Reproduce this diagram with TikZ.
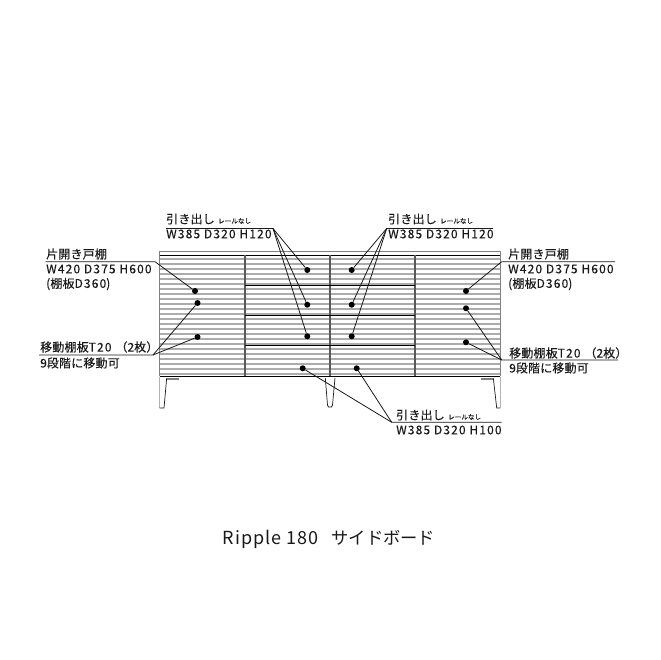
\documentclass[tikz,border=0pt]{standalone}
\usepackage{fontspec}
\setmainfont[LetterSpace=1.5,FakeBold=0.2]{Noto Sans CJK JP}
\newfontfamily\latfont[LetterSpace=9.5,FakeBold=0.2]{Noto Sans CJK JP}
\newfontfamily\headfont[LetterSpace=5.5]{Noto Sans CJK JP}
\newfontfamily\headjpfont{Noto Sans CJK JP}
\newcommand{\lat}[1]{{\latfont #1}}
\definecolor{inkline}{gray}{0.1}
\tikzset{
	lbl/.style={anchor=west,inner sep=0pt,text=inkline,font=\fontsize{12}{14}\selectfont},
	tiny/.style={anchor=west,inner sep=0pt,text=inkline,font=\fontsize{6.5}{8}\selectfont},
	dot/.style={circle,fill=black,inner sep=0pt,minimum size=6pt},
	leader/.style={inkline,line width=0.8pt},
	slat/.style={gray!65,line width=1.9pt},
	frame/.style={black!65,line width=1.2pt},
}
\begin{document}
\begin{tikzpicture}[x=1pt,y=-1pt]
	\useasboundingbox (0,0) rectangle (660,660);
	% slats
	\foreach \y in {0,...,23}
		\draw[slat] (160,{259+5*\y}) -- (500,{259+5*\y});
	% carcass
	\draw[gray,line width=0.9pt] (159.5,376) -- (159.5,251) -- (500,251) -- (500,376);
	\draw[black,line width=1.3pt] (159.5,255.3) -- (500,255.3);
	\draw[black,line width=1.5pt] (159.5,376.7) -- (500,376.7);
	\foreach \x in {245,330,415}
		\draw[frame] (\x,255) -- (\x,376);
	\foreach \y in {285.5,315.5,345.5}
		\draw[black,line width=1.7pt] (245,\y) -- (415,\y);
	% legs
	\draw[gray!60,line width=0.7pt] (159.5,377) -- (159.5,408);
	\draw[inkline,line width=0.7pt] (159.5,408) -- (164,408) -- (166.7,378);
	\draw[gray!60,line width=0.7pt] (500,377) -- (500,408);
	\draw[inkline,line width=0.7pt] (500,408) -- (496.7,408) -- (493.3,378);
	\fill[gray] (166.7,377.5) rectangle (179,380);
	\fill[gray] (481,377.5) rectangle (493.3,380);
	\draw[inkline,line width=0.7pt] (325.3,378) -- (327.5,405) -- (328.5,407) -- (331.5,407) -- (332.5,405) -- (335,378);
	% dots
	\foreach \n/\x/\y in {la/195/291,lb/197.5/303,lc/197.5/337,ra/466/291,rb/466/308.3,rc/466/342.3,
		ma/307.3/270,mb/307.3/304.7,mc/307.3/336.3,na/351.7/270,nb/351.7/304.7,nc/351.7/336.3,
		pa/302.7/368.3,pb/356.7/368.3}
		\node[dot] (\n) at (\x,\y) {};
	% labels
	\node[lbl] (doorL) at (46,254) {片開き戸棚};
	\node[lbl] (sizeL) at (46,269) {\lat{W420 D375 H600}};
	\node[lbl] (inL) at (46,284) {(棚板\lat{D360})};
	\node[lbl] (shelfL) at (40,347) {移動棚板\lat{T20}\hspace*{4pt}（\lat{2}枚）};
	\node[lbl] (stepL) at (40,363) {\lat{9}段階に移動可};
	\node[lbl] (doorR) at (508,254) {片開き戸棚};
	\node[lbl] (sizeR) at (508,269) {\lat{W420 D375 H600}};
	\node[lbl] (inR) at (508,284) {(棚板\lat{D360})};
	\node[lbl] (shelfR) at (509,353) {移動棚板\lat{T20}\hspace*{4pt}（\lat{2}枚）};
	\node[lbl] (stepR) at (509,368) {\lat{9}段階に移動可};
	\node[lbl] (drawA) at (166,219) {引き出し};
	\node[tiny] (railA) at (218,221) {レールなし};
	\node[lbl] (dimA) at (166,234) {\lat{W385 D320 H120}};
	\node[lbl] (drawB) at (388,219) {引き出し};
	\node[tiny] (railB) at (440,221) {レールなし};
	\node[lbl] (dimB) at (388,234) {\lat{W385 D320 H120}};
	\node[lbl] (drawC) at (396,415) {引き出し};
	\node[tiny] (railC) at (448,417) {レールなし};
	\node[lbl] (dimC) at (396,430) {\lat{W385 D320 H100}};
	\node[anchor=center,inner sep=0pt,text=inkline,font=\fontsize{18}{20}\selectfont] (title) at (329,539) {{\headfont Ripple 180}\hspace*{13pt}{\headjpfont\fontsize{17.3}{20}\selectfont サイドボード}};
	% leaders
	\coordinate (kneeLa) at (155,261.7);
	\coordinate (kneeLb) at (153,355);
	\coordinate (kneeRa) at (501.7,261.7);
	\coordinate (kneeRb) at (501.7,360);
	\coordinate (kneeA) at (273,228.5);
	\coordinate (kneeB) at (386.7,228.5);
	\coordinate (kneeC) at (391.7,422.3);
	\draw[leader] (45.7,261.7) -- (kneeLa) -- (la);
	\draw[leader] (39,355) -- (kneeLb) -- (lb);
	\draw[leader] (kneeLb) -- (lc);
	\draw[leader] (615,261.7) -- (kneeRa) -- (ra);
	\draw[leader] (618,360) -- (kneeRb) -- (rb);
	\draw[leader] (kneeRb) -- (rc);
	\draw[leader] (166,228.5) -- (kneeA) -- (ma);
	\foreach \n in {mb,mc}
		\draw[leader] (kneeA) -- (\n);
	\draw[leader] (493,228.5) -- (kneeB) -- (na);
	\foreach \n in {nb,nc}
		\draw[leader] (kneeB) -- (\n);
	\draw[leader] (501.7,422.3) -- (kneeC) -- (pa);
	\draw[leader] (kneeC) -- (pb);
\end{tikzpicture}
\end{document}
